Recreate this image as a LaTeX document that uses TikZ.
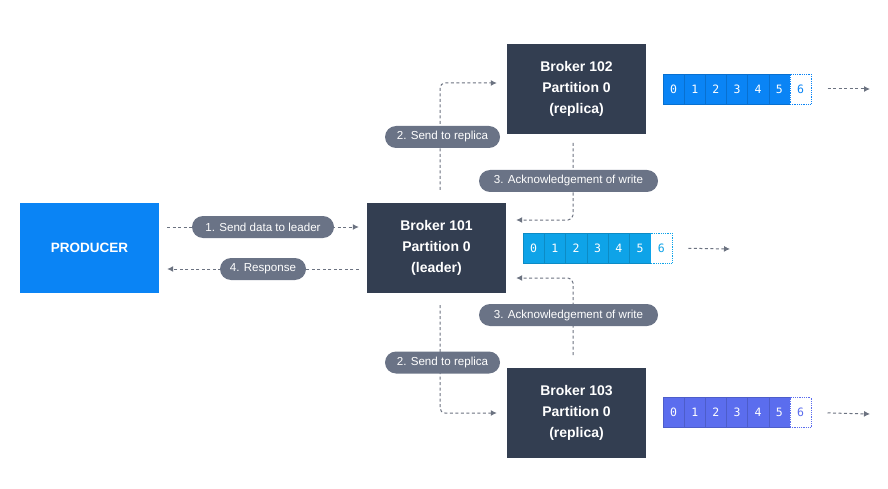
\documentclass[tikz,border=0pt]{standalone}
\usepackage{fontspec}
\setmainfont{Liberation Sans}
\newfontfamily\cellfont{DejaVu Sans Mono}
\usetikzlibrary{arrows.meta,backgrounds}
\definecolor{brokerc}{HTML}{333E51}
\definecolor{pillc}{HTML}{6A7386}
\definecolor{linec}{HTML}{6B7280}
\definecolor{prodc}{HTML}{0A84F5}
\definecolor{topc}{HTML}{0A84F5}
\definecolor{midc}{HTML}{0EA3E8}
\definecolor{botc}{HTML}{5B6DEE}
\tikzset{
  broker/.style={fill=brokerc, text=white, font=\bfseries\fontsize{14}{21}\selectfont,
    minimum width=139pt, minimum height=90pt, align=center, inner sep=0pt},
  pill/.style={fill=pillc, text=white, rounded corners=11pt, font=\fontsize{11.6}{13}\selectfont,
    minimum height=22pt, inner sep=0pt},
  flow/.style={draw=linec, line width=1pt, dash pattern=on 3pt off 2.5pt,
    -{Latex[length=6pt,width=6pt]}},
  cell/.style={minimum width=21.2pt, minimum height=30pt, inner sep=0pt,
    font=\cellfont\fontsize{11.5}{13}\selectfont},
}
\begin{document}
\begin{tikzpicture}[x=1pt,y=-1pt]
\useasboundingbox (0,0) rectangle (888,489);

% main boxes
\node[fill=prodc, text=white, font=\bfseries\fontsize{13.5}{16}\selectfont,
  minimum width=139pt, minimum height=90pt, inner sep=0pt] (producer) at (89.5,248) {PRODUCER};
\node[broker] (b101) at (436.5,248) {Broker 101\\Partition 0\\(leader)};
\node[broker] (b102) at (576.5,89) {Broker 102\\Partition 0\\(replica)};
\node[broker] (b103) at (576.5,413) {Broker 103\\Partition 0\\(replica)};

% labels
\node[pill, minimum width=142pt] (p1) at (263,227) {1. Send data to leader};
\node[pill, minimum width=86pt] (p4) at (263,269) {4. Response};
\node[pill, minimum width=115pt] (p2t) at (442.5,137) {2. Send to replica};
\node[pill, minimum width=115pt] (p2b) at (442.5,362.5) {2. Send to replica};
\node[pill, minimum width=179pt] (p3t) at (568.5,181) {3. Acknowledgement of write};
\node[pill, minimum width=179pt] (p3b) at (568.5,315) {3. Acknowledgement of write};

% partition logs
\foreach \i in {0,...,5} {
  \node[cell, fill=topc, draw=topc!85!black, line width=0.4pt, text=white] (t\i) at ({673.6+21.15*\i},89) {\i};
  \node[cell, fill=midc, draw=midc!85!black, line width=0.4pt, text=white] (m\i) at ({533.6+21.3*\i},248) {\i};
  \node[cell, fill=botc, draw=botc!85!black, line width=0.4pt, text=white] (u\i) at ({673.6+21.15*\i},412.5) {\i};
}
\node[cell, fill=white, draw=topc, densely dotted, line width=0.8pt, text=topc] (t6) at ({673.6+21.15*6},89) {6};
\node[cell, fill=white, draw=midc, densely dotted, line width=0.8pt, text=midc] (m6) at ({533.6+21.3*6},248) {6};
\node[cell, fill=white, draw=botc, densely dotted, line width=0.8pt, text=botc] (u6) at ({673.6+21.15*6},412.5) {6};

\coordinate (te) at (870,89);
\coordinate (me) at (730,249);
\coordinate (ue) at (870,414);
\coordinate (s2t) at (440,190);
\coordinate (s2b) at (440,305);
\coordinate (a3t) at (573,143);
\coordinate (a3b) at (573,355);

\begin{scope}[on background layer]
  \draw[flow, shorten <=8pt, shorten >=8pt] (producer.east |- p1) -- (b101.west |- p1);
  \draw[flow, shorten <=8pt, shorten >=8pt] (b101.west |- p4) -- (producer.east |- p4);
  \draw[flow, rounded corners=5pt, shorten >=10pt] (s2t) |- ([yshift=6pt]b102.west);
  \draw[flow, rounded corners=5pt, shorten >=10pt] (s2b) |- (b103.west);
  \draw[flow, rounded corners=5pt, shorten >=10pt] (a3t) |- ([yshift=28pt]b101.east);
  \draw[flow, rounded corners=5pt, shorten >=10pt] (a3b) |- ([yshift=-30pt]b101.east);
  \draw[flow, shorten <=16pt] (t6.east) -- (te);
  \draw[flow, shorten <=16pt] (m6.east) -- (me);
  \draw[flow, shorten <=16pt] (u6.east) -- (ue);
\end{scope}
\end{tikzpicture}
\end{document}
